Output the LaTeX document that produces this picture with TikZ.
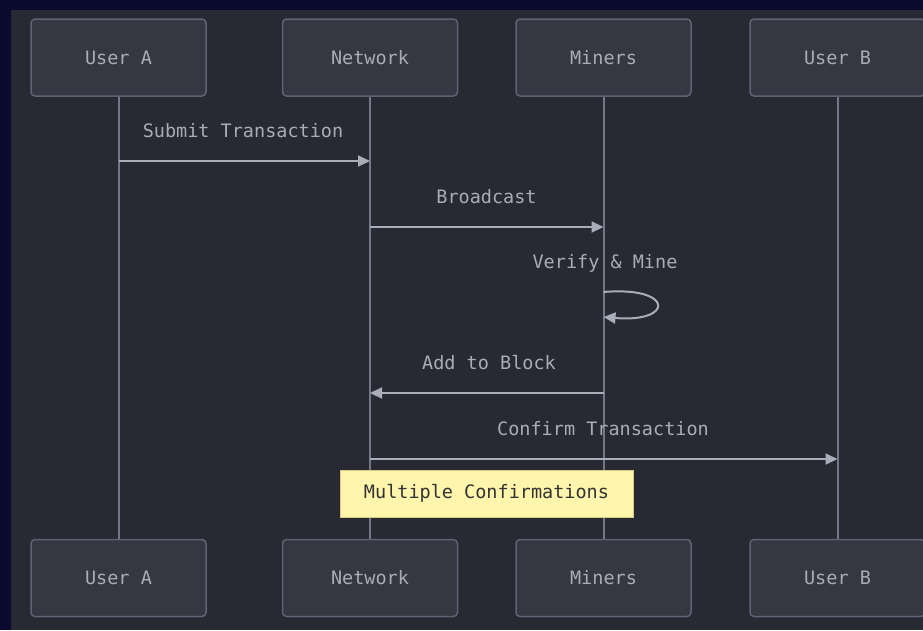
\documentclass[tikz,border=0pt]{standalone}
\usepackage{fontspec}
\setmonofont{DejaVu Sans Mono}
\usetikzlibrary{arrows.meta}

\definecolor{frame}{HTML}{0B0B30}
\definecolor{canvas}{HTML}{272A33}
\definecolor{actorfill}{HTML}{353842}
\definecolor{actorline}{HTML}{5E6272}
\definecolor{lifeline}{HTML}{737889}
\definecolor{msgline}{HTML}{A9ADBA}
\definecolor{label}{HTML}{A8ACB6}
\definecolor{notefill}{HTML}{FFF5AD}
\definecolor{noteline}{HTML}{D6CC84}
\definecolor{notetext}{HTML}{333333}

\tikzset{
  actor/.style={draw=actorline, line width=1.5pt, fill=actorfill, rounded corners=4pt,
    minimum width=175pt, minimum height=77pt, inner sep=0pt,
    font=\ttfamily\fontsize{18.5}{20}\selectfont, text=label},
  life/.style={draw=lifeline, line width=2pt},
  msg/.style={draw=msgline, line width=2pt, -{Triangle[length=12pt,width=11pt]}},
  msglabel/.style={font=\ttfamily\fontsize{18.5}{20}\selectfont, text=label, inner sep=0pt},
  notebox/.style={draw=noteline, line width=1pt, fill=notefill, minimum width=293pt,
    minimum height=47pt, inner sep=0pt, font=\ttfamily\fontsize{18.5}{20}\selectfont, text=notetext}
}

\begin{document}
\begin{tikzpicture}[x=1pt, y=-1pt]
  \useasboundingbox (0,0) rectangle (923,630);
  \clip (0,0) rectangle (923,630);
  \fill[frame] (0,0) rectangle (923,630);
  \fill[canvas] (11,10) rectangle (923,630);

  % participants, top and bottom
  \node[actor] (a1) at (118.5,57.5) {User A};
  \node[actor] (n1) at (370,57.5) {Network};
  \node[actor] (m1) at (603.5,57.5) {Miners};
  \node[actor] (b1) at (837.5,57.5) {User B};
  \node[actor] (a2) at (118.5,578) {User A};
  \node[actor] (n2) at (370,578) {Network};
  \node[actor] (m2) at (603.5,578) {Miners};
  \node[actor] (b2) at (837.5,578) {User B};

  % lifelines
  \draw[life] (a1.south) -- (a2.north);
  \draw[life] (n1.south) -- (n2.north);
  \draw[life] (m1.south) -- (m2.north);
  \draw[life] (b1.south) -- (b2.north);

  % rows of the messages
  \coordinate (r1) at (0,161);
  \coordinate (r2) at (0,227);
  \coordinate (r3a) at (0,292);
  \coordinate (r3b) at (0,317);
  \coordinate (r4) at (0,393);
  \coordinate (r5) at (0,459);

  % messages
  \node[msglabel] (t1) at (243,131) {Submit Transaction};
  \draw[msg] (a1 |- r1) -- (n1 |- r1);

  \node[msglabel] (t2) at (486.5,197) {Broadcast};
  \draw[msg] (n1 |- r2) -- (m1 |- r2);

  \node[msglabel] (t3) at (605,263) {Verify \& Mine};
  \draw[msg] (m1 |- r3a) .. controls +(71,-6) and +(71,6) .. (m1 |- r3b);

  \node[msglabel] (t4) at (489,363) {Add to Block};
  \draw[msg] (m1 |- r4) -- (n1 |- r4);

  \node[msglabel] (t5) at (603,429) {Confirm Transaction};
  \draw[msg] (n1 |- r5) -- (b1 |- r5);

  % note over Network and Miners
  \node[notebox] (note) at (486.5,493.5) {Multiple Confirmations};
\end{tikzpicture}
\end{document}
